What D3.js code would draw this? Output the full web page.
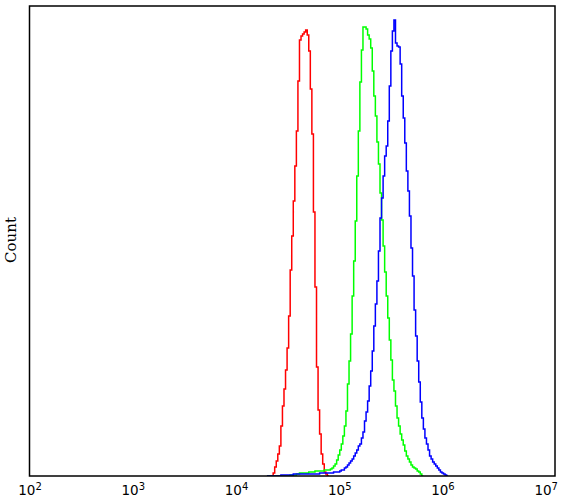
<!DOCTYPE html>
<html>
<head>
<meta charset="utf-8">
<script src="https://cdn.jsdelivr.net/npm/d3@7"></script>
<style>
  body { margin: 0; background: #fff; }
  .tick text { font-family: "DejaVu Sans", sans-serif; font-size: 13.5px; fill: #000; }
</style>
</head>
<body>
<svg class="chart"></svg>
<script>
    // histogram bins, in log10 units of the x axis
    var binStart = 4.30;
    var binWidth = 0.015;

    var redCounts = [0,0,0,0,3,9,15,22,30,50,
      70,87,106,128,160,206,240,275,310,345,
      395,436,440,442,444,446,441,425,387,342,
      264,189,109,66,42,22,12,4,2,0];
    var greenCounts = [0,0,0,0,0,0,0,0,0,0,0,0,0,0,0,
      1,1,1,1,2,2,3,3,3,3,3,3,4,4,4,4,5,5,5,5,5,5,6,6,6,6,
      7,8,10,12,16,21,26,32,40,50,
      65,92,115,142,180,215,255,300,345,394,
      426,449,449,447,441,437,428,405,380,360,
      334,312,283,256,230,204,180,158,136,116,
      96,85,70,58,50,42,36,31,25,20,
      17,14,11,9,8,7,5,4,2,0];
    var blueCounts = [0,0,0,0,0,0,0,0,0,
      1,1,1,1,1,1,1,1,
      2,2,2,2,2,2,2,2,2,2,2,2,2,2,2,2,2,
      3,3,3,3,3,3,3,3,3,
      4,4,4,4,5,6,6,8,
      9,11,13,15,17,20,23,26,30,32,
      38,44,55,64,75,90,105,125,150,172,
      195,225,258,278,300,320,330,355,390,425,
      445,456,433,430,429,412,380,358,333,305,
      285,260,228,200,166,140,115,94,74,58,
      47,38,32,26,20,17,14,12,10,8,
      6,4,3,2,1,0];

    var tickValues = [1e2, 1e3, 1e4, 1e5, 1e6, 1e7];
    var tickExponents = ["2", "3", "4", "5", "6", "7"];
    var yLabel = "Count";

    var width = 563;
    var height = 499;
    var plotLeft = 29.5, plotRight = 555, plotTop = 6, plotBottom = 476;

    var x = d3.scaleLog()
        .domain([1e2, Math.pow(10, 7.09)])
        .range([plotLeft, plotRight]);

    var y = d3.scaleLinear()
        .domain([0, 470])
        .range([plotBottom, plotTop]);

    var chart = d3.select(".chart")
        .attr("width", width)
        .attr("height", height);

    chart.append("defs").append("clipPath")
        .attr("id", "plot")
      .append("rect")
        .attr("x", plotLeft).attr("y", plotTop)
        .attr("width", plotRight - plotLeft).attr("height", plotBottom - plotTop);

    function histPoints(counts) {
      var pts = counts.map(function(c, i) {
        return { e: Math.pow(10, binStart + i * binWidth), c: c };
      });
      pts.push({ e: Math.pow(10, binStart + counts.length * binWidth), c: counts[counts.length - 1] });
      return pts;
    }

    var line = d3.line()
        .curve(d3.curveStepAfter)
        .x(function(d) { return x(d.e); })
        .y(function(d) { return y(d.c); });

    var series = [
      { counts: redCounts, color: "#ff0000" },
      { counts: greenCounts, color: "#00ff00" },
      { counts: blueCounts, color: "#0000ff" }
    ];

    chart.append("g")
        .attr("clip-path", "url(#plot)")
      .selectAll("path")
      .data(series)
      .enter().append("path")
        .attr("d", function(d) { return line(histPoints(d.counts)); })
        .attr("fill", "none")
        .attr("stroke", function(d) { return d.color; })
        .attr("stroke-width", 1.5);

    // frame
    chart.append("rect")
        .attr("x", plotLeft).attr("y", plotTop)
        .attr("width", plotRight - plotLeft).attr("height", plotBottom - plotTop)
        .attr("fill", "none")
        .attr("stroke", "#000")
        .attr("stroke-width", 1.5);

    var xAxis = chart.append("g")
        .attr("transform", "translate(0," + plotBottom + ")")
        .call(d3.axisBottom(x)
          .tickValues(tickValues)
          .tickSize(0)
          .tickPadding(9)
          .tickFormat(function() { return "10"; }));
    xAxis.select(".domain").remove();
    xAxis.attr("font-family", null).attr("font-size", null);
    xAxis.selectAll(".tick text").each(function(d, i) {
      d3.select(this).append("tspan")
        .attr("dy", "-0.45em")
        .style("font-size", "10px")
        .text(tickExponents[i]);
    });

    chart.append("text")
        .attr("transform", "translate(16,240) rotate(-90)")
        .style("text-anchor", "middle")
        .style("font-family", "'DejaVu Serif', serif")
        .style("font-size", "15px")
        .text(yLabel);
</script>
</body>
</html>
